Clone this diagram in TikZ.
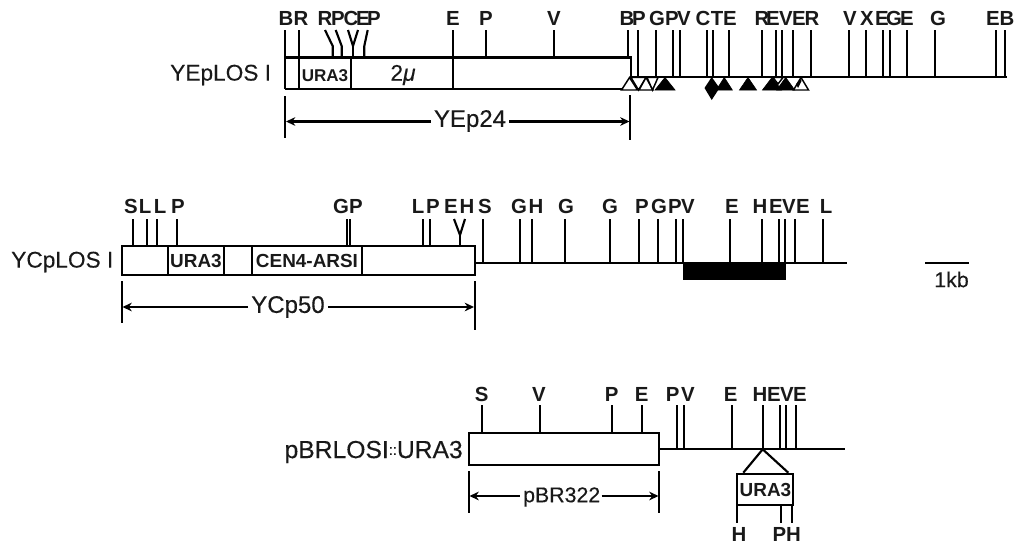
\documentclass[tikz,border=0pt]{standalone}
\usepackage{fontspec}
\setmainfont{Liberation Sans}
\newfontfamily\medf[FakeBold=0.25]{Liberation Sans}
\usetikzlibrary{arrows.meta}
\tikzset{
 x=0.75pt,y=-0.75pt,
 ln/.style={line width=1.6pt,line cap=butt,line join=miter},
 lab/.style={font=\bfseries\fontsize{15.3}{17}\selectfont,inner sep=0pt,text=black!90},
 inb/.style={font=\bfseries\fontsize{14.2}{15}\selectfont,inner sep=0pt,text=black!90},
 big/.style={font=\medf\fontsize{17}{19}\selectfont,inner sep=0pt,text=black!90},
 dimtip/.style={ln,-{Stealth[length=7pt,width=6.5pt]}},
 wt/.style={fill=white,draw=black,line width=1.1pt,line join=miter},
 bt/.style={fill=black,draw=black,line width=.5pt},
}
\newcommand{\tk}[3]{\draw[ln] (#1,#2) -- (#1,#3);}
\newcommand{\lb}[3]{\node[lab] at (#1,#2) {#3};}
\newcommand{\upt}[3][bt]{\draw[#1] ({#2-#3},90) -- (#2,77.5) -- ({#2+#3},90) -- cycle;}
\begin{document}
\begin{tikzpicture}
\useasboundingbox (0,0) rectangle (1014,544);
% ---------- Row 1
\draw[ln] (285.3,57.5) -- (630.7,57.5) -- (630.7,77);
\draw[ln] (285.3,89) -- (625,89);
\draw[ln] (630,77) -- (1006.7,77);
\tk{299.2}{30}{89}
\tk{350.7}{57.5}{89}
\tk{452.7}{30}{89}
\tk{285.3}{30}{89}
\foreach \x in {485.7,554.3,628.3}{\tk{\x}{30}{57.5}}
\foreach \x in {637.7,656,672.7,680.3,706.7,713,729.3,762.3,776.3,782.3,793,811,849.3,866.3,883,890.3,907.3,934.7,996,1005}{\tk{\x}{30}{77}}
\draw[ln] (325,30) -- (332.7,46) -- (332.7,57.5);
\draw[ln] (335.7,30) -- (341.7,46) -- (341.7,57.5);
\draw[ln] (348,30) -- (353,46) -- (358,30);
\draw[ln] (353,46) -- (353,57.5);
\draw[ln] (367.7,30) -- (364.3,46) -- (364.3,57.5);
\foreach \t/\x in {B/286,R/301,R/325,P/338,C/351,E/363,P/374,E/453,P/486,V/554,B/627,P/639,G/657,P/672,V/684,C/703,T/717,E/730,R/762,E/773,V/786,E/799,R/812,V/850,X/867,E/882,G/894,E/907,G/938,E/993,B/1007}{\lb{\x}{18}{\t}}
\node[inb,font=\bfseries\fontsize{12.8}{15}\selectfont] at (325,76) {URA3};
\node[big] at (403,75) {2\textit{μ}};
\node[big,anchor=west] at (170,75) {YEpLOS I};
% triangles row 1
\upt[wt]{629.5}{8}
\draw[wt] (631,77.5) -- (646,77.5) -- (638.5,90) -- cycle;
\upt[wt]{646}{7}
\draw[wt] (647,77.5) -- (658,77.5) -- (652.5,90) -- cycle;
\upt{665}{10}
\fill[black] (711.7,77) -- (719.5,88) -- (711.7,100) -- (704.5,88) -- cycle;
\upt{724.3}{8}
\upt{748}{8.5}
\upt{772}{9.5}
\upt{785.7}{9}
\draw[wt] (773,77.5) -- (783,77.5) -- (778,84) -- cycle;
\upt[wt]{801}{7.5}
\fill[black] (796,84) -- (801,79) -- (801.5,81) -- (798,88) -- cycle;
% dimension row 1
\draw[ln] (285.3,96) -- (285.3,138);
\draw[ln] (630,95) -- (630,140);
\node[big,font=\medf\fontsize{18}{20}\selectfont] (d1) at (470,121) {YEp24};
\draw[dimtip] (d1.west)++(-3,0.5) -- (286,121.5);
\draw[dimtip] (d1.east)++(3,0.5) -- (629.5,121.5);
% ---------- Row 2
\draw[ln] (121.7,245.7) rectangle (475,275);
\foreach \x in {167.7,224,251.7,361.7}{\tk{\x}{245.7}{275}}
\foreach \x in {133.3,147.3,156.7,176.7,346.7,350,422.7,430}{\tk{\x}{219}{245.7}}
\draw[ln] (454,219) -- (460,235) -- (465,219);
\draw[ln] (460,235) -- (460,245.7);
\draw[ln] (475,262.7) -- (846.7,262.7);
\foreach \x in {482.7,519.7,532,565.3,609.7,639,658,675.7,682.7,730.3,761.7,779,785.3,795,823.3}{\tk{\x}{219}{262.7}}
\fill[black] (682.7,262.7) rectangle (786,280);
\foreach \t/\x in {S/131,L/145,L/160,P/178,G/341,P/356,L/418,P/433,E/451,H/467,S/485,G/519,H/536,G/566,G/610,P/642,G/659,P/675,V/688,E/732,H/760,E/776,V/789,E/803,L/826}{\lb{\x}{206}{\t}}
\node[inb] at (196,261) {URA3};
\node[inb] at (307,261) {CEN4-ARSI};
\node[big,anchor=west] at (11,262) {YCpLOS I};
\draw[ln] (121.7,281) -- (121.7,323);
\draw[ln] (474.8,281) -- (474.8,330);
\node[big,font=\medf\fontsize{18}{20}\selectfont] (d2) at (288,307) {YCp50};
\draw[dimtip] (d2.west)++(-3,0) -- (122.5,307);
\draw[dimtip] (d2.east)++(3,0) -- (474,307);
\draw[ln] (925,263) -- (969.3,263);
\node[big,font=\medf\fontsize{16}{18}\selectfont] at (951.5,279.5) {1kb};
% ---------- Row 3
\draw[ln] (469,433.3) rectangle (659.3,465);
\foreach \x in {482.3,540,612.3,642.3}{\tk{\x}{405}{433.3}}
\draw[ln] (659.3,449.3) -- (845,449.3);
\foreach \x in {676.7,684,731.7,762.7,780,785.7,796}{\tk{\x}{405}{449.3}}
\foreach \t/\x in {S/481.7,V/539,P/611.7,E/641.7,P/672.7,V/688,E/730.7,H/760,E/774,V/787,E/800}{\lb{\x}{394}{\t}}
\draw[ln] (743.3,472.7) -- (762.7,449.3) -- (788.3,472.7);
\draw[ln] (737.3,474) rectangle (793.3,505);
\foreach \x in {737.3,780.7,792.3}{\tk{\x}{505}{522.7}}
\node[inb] at (765.5,489.5) {URA3};
\lb{739}{534}{H}
\node[lab] at (786.7,534) {PH};
\node[big,font=\medf\fontsize{18.5}{20}\selectfont,anchor=east] at (463,452) {pBRLOSI\raisebox{.25ex}{\fontsize{11}{11}\selectfont::}URA3};
\draw[ln] (469,471) -- (469,513);
\draw[ln] (659,471) -- (659,513);
\node[big,font=\medf\fontsize{16}{18}\selectfont] (d3) at (561.7,497) {pBR322};
\draw[dimtip] (d3.west)++(-3,-1) -- (469.5,496);
\draw[dimtip] (d3.east)++(1,-1) -- (658.5,496);
\end{tikzpicture}
\end{document}
